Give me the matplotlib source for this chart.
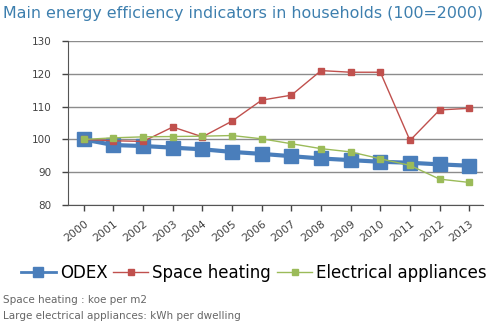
import matplotlib.pyplot as plt

plt.rcParams['font.family'] = ['DejaVu Sans']

# Indicators, base 100 = 2000
years = [str(y) for y in range(2000, 2014)]
odex = [100, 98.3, 98.0, 97.5, 97.0, 96.2, 95.6, 94.9, 94.2, 93.7, 93.2, 92.9, 92.4, 92.0]
space_heating = [100, 99.6, 99.4, 103.8, 100.8, 105.6, 112.0, 113.5, 121.0, 120.5, 120.5, 99.7, 109.0, 109.5]
appliances = [100, 100.5, 100.8, 100.9, 101.0, 101.2, 100.2, 98.7, 97.2, 96.2, 94.1, 92.1, 87.9, 86.9]

fig = plt.figure(figsize=(4.88, 3.26), dpi=100)
ax = fig.add_axes([0.139, 0.371, 0.85, 0.503])

x = range(len(years))
ax.plot(x, odex, color='#4a7ebb', lw=3, marker='s', ms=9.5, label='ODEX', zorder=3)
ax.plot(x, space_heating, color='#c0504d', lw=1, marker='s', ms=4.5, label='Space heating', zorder=4)
ax.plot(x, appliances, color='#9bbb59', lw=1, marker='s', ms=4.5, label='Electrical appliances', zorder=4)

ax.set_ylim(80, 130)
ax.set_yticks(range(80, 131, 10))
ax.set_xlim(-0.54, len(years) - 0.55)
ax.set_xticks(list(x))
ax.set_xticklabels(years, rotation=38, ha='right', rotation_mode='anchor')
ax.tick_params(axis='both', labelsize=7.5, colors='#444444', length=4, width=1)
ax.tick_params(axis='y', pad=8)
ax.tick_params(axis='x', labelsize=7.8, pad=6)
ax.yaxis.grid(True, color='#8c8c8c', lw=1)
ax.set_axisbelow(True)
for side in ['top', 'right']:
    ax.spines[side].set_visible(False)
for side in ['left', 'bottom']:
    ax.spines[side].set_color('#555555')

fig.text(0.006, 0.946, 'Main energy efficiency indicators in households (100=2000)',
         color='#3d7fae', fontsize=11.4)

leg = fig.legend(loc='center', bbox_to_anchor=(0.52, 0.163), ncol=3, frameon=False,
                 fontsize=12, handlelength=2.1, handletextpad=0.25, columnspacing=0.35)
for h in leg.legend_handles:
    h.set_markersize(5)
leg.legend_handles[0].set_linewidth(2)
leg.legend_handles[0].set_markersize(6.5)

fig.text(0.006, 0.07, 'Space heating : koe per m2', fontsize=7.5, color='#666666')
fig.text(0.006, 0.022, 'Large electrical appliances: kWh per dwelling', fontsize=7.5, color='#666666')

fig.savefig('out.png', dpi=100)
